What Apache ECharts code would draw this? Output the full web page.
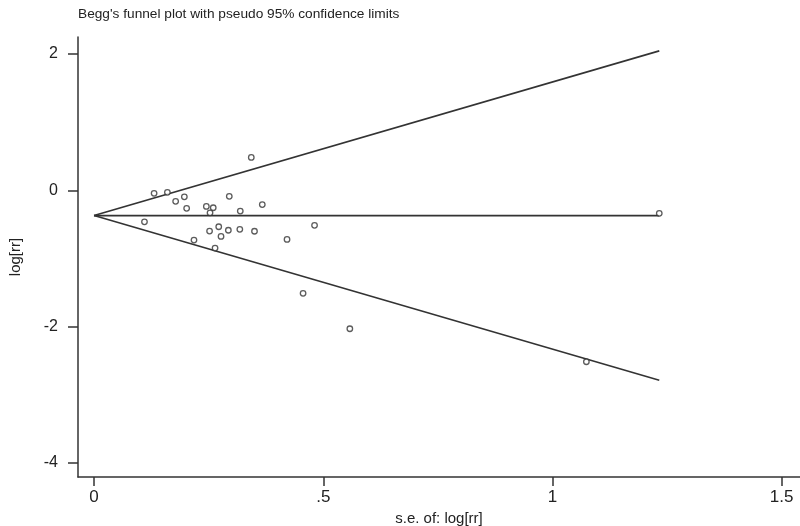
<!DOCTYPE html>
<html>
<head>
<meta charset="utf-8">
<style>html,body{margin:0;padding:0;background:#fff}#c{width:800px;height:526px}</style>
<script src="https://cdn.jsdelivr.net/npm/echarts@6/dist/echarts.min.js"></script>
</head>
<body>
<div id="c"></div>
<script>
var titleText = "Begg's funnel plot with pseudo 95% confidence limits";
var xName = "s.e. of: log[rr]";
var yName = "log[rr]";
var seValues = [0.343,0.131,0.160,0.178,0.197,0.202,0.245,0.260,0.253,0.295,0.319,0.367,0.110,0.218,0.252,0.272,0.277,0.293,0.318,0.350,0.264,0.481,0.421,0.456,0.558,1.233,1.074];
var logrrValues = [0.484,-0.044,-0.028,-0.160,-0.094,-0.264,-0.235,-0.255,-0.329,-0.088,-0.304,-0.208,-0.461,-0.729,-0.597,-0.534,-0.675,-0.585,-0.571,-0.600,-0.846,-0.513,-0.719,-1.511,-2.030,-0.337,-2.514];
var pooled = -0.37;
var seMax = 1.233;
var zCrit = 1.96;
var xTicks = [0, 0.5, 1, 1.5];
var xTickLabels = ["0", ".5", "1", "1.5"];
var yTicks = [-4, -2, 0, 2];
var yTickLabels = ["-4", "-2", "0", "2"];

var points = seValues.map(function(s, i){ return [s, logrrValues[i]]; });
var upper = [[0, pooled], [seMax, pooled + zCrit * seMax]];
var lower = [[0, pooled], [seMax, pooled - zCrit * seMax]];
var center = [[0, pooled], [seMax, pooled]];
var font = "'Liberation Sans', Arial, sans-serif";
var chart = echarts.init(document.getElementById('c'));
var lineStyle = {color: '#333', width: 1.6};
function fmt(list, labels){ return function(v){ for (var i=0;i<list.length;i++){ if (Math.abs(list[i]-v)<1e-9) return labels[i]; } return ''; }; }
chart.setOption({
  animation: false,
  title: {text: titleText, left: 73, top: 2, textStyle: {fontFamily: font, fontSize: 13.7, fontWeight: 'normal', color: '#222'}},
  grid: {left: 78, right: 0, top: 37, bottom: 49, outerBoundsMode: 'none', containLabel: false},
  xAxis: {
    type: 'value', min: -0.035, max: 1.54,
    name: xName, nameLocation: 'middle', nameGap: 27,
    nameTextStyle: {fontFamily: font, fontSize: 15, color: '#222'},
    axisLine: {show: true, onZero: false, lineStyle: {color: '#333', width: 1.5}},
    axisTick: {show: true, length: 9, customValues: xTicks, lineStyle: {color: '#333', width: 1.5}},
    axisLabel: {customValues: xTicks, formatter: fmt(xTicks, xTickLabels), margin: 12, fontFamily: font, fontSize: 17, color: '#222'},
    splitLine: {show: false}
  },
  yAxis: {
    type: 'value', min: -4.205, max: 2.25,
    name: yName, nameLocation: 'middle', nameGap: 55, nameRotate: 90,
    nameTextStyle: {fontFamily: font, fontSize: 15, color: '#222'},
    axisLine: {show: true, onZero: false, lineStyle: {color: '#333', width: 1.5}},
    axisTick: {show: true, length: 10, customValues: yTicks, lineStyle: {color: '#333', width: 1.5}},
    axisLabel: {customValues: yTicks, formatter: fmt(yTicks, yTickLabels), margin: 20, fontFamily: font, fontSize: 16, color: '#222'},
    splitLine: {show: false}
  },
  series: [
    {type: 'line', data: upper, showSymbol: false, lineStyle: lineStyle, silent: true},
    {type: 'line', data: center, showSymbol: false, lineStyle: lineStyle, silent: true},
    {type: 'line', data: lower, showSymbol: false, lineStyle: lineStyle, silent: true},
    {type: 'scatter', data: points, symbol: 'circle', symbolSize: 5.5, itemStyle: {color: '#fff', borderColor: '#333', borderWidth: 1.3}, z: 5}
  ]
});
</script>
</body>
</html>
